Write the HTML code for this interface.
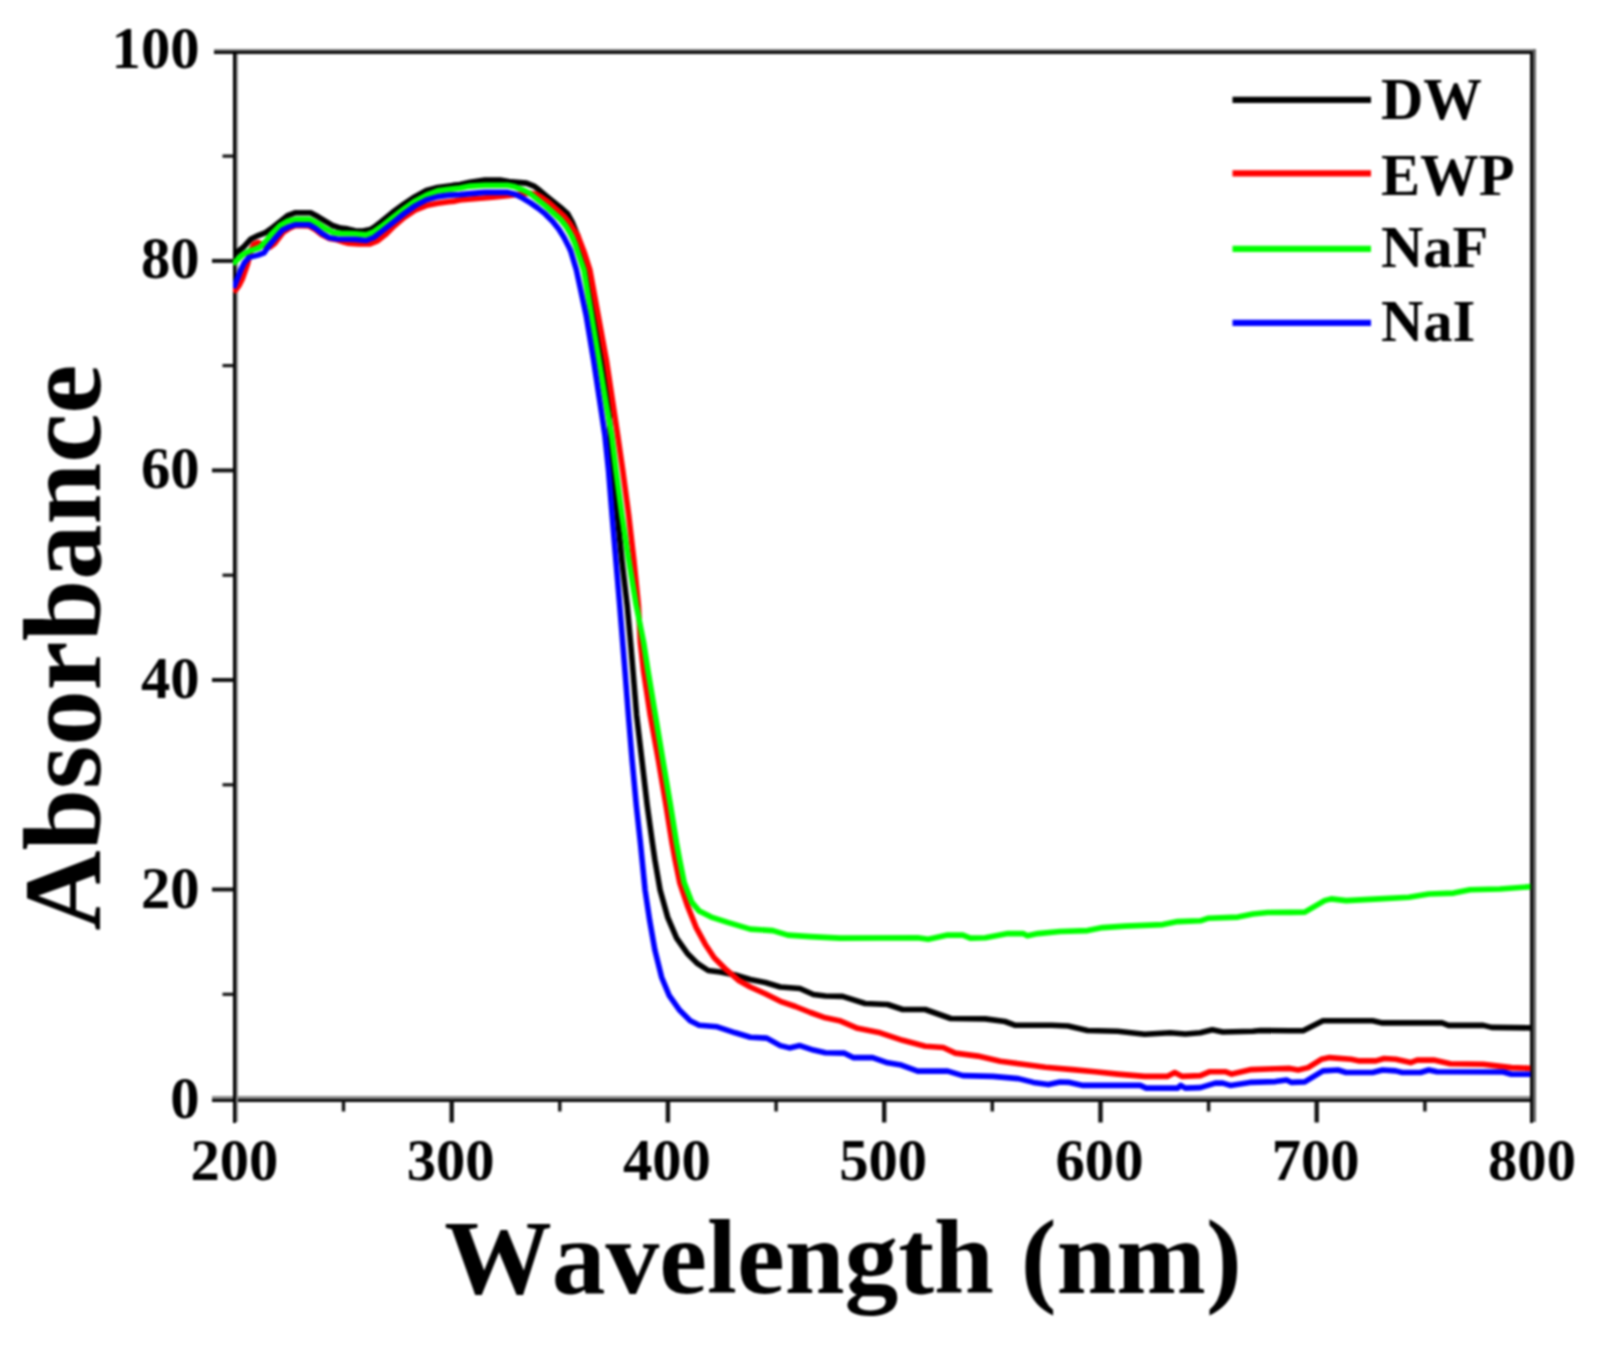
<!DOCTYPE html>
<html lang="en"><head><meta charset="utf-8"><title>Absorbance vs Wavelength</title>
<style>
html,body{margin:0;padding:0;background:#fff;}
body{width:1597px;height:1345px;overflow:hidden;}
svg{display:block;}
text{font-family:"Liberation Serif",serif;font-weight:bold;fill:#000;font-kerning:none;}
</style></head><body>
<svg width="1597" height="1345" viewBox="0 0 1597 1345">
<rect x="0" y="0" width="1597" height="1345" fill="#fff"/>
<defs><filter id="soft" x="0" y="0" width="100%" height="100%" filterUnits="userSpaceOnUse" color-interpolation-filters="sRGB"><feGaussianBlur stdDeviation="1.1"/></filter></defs>
<g filter="url(#soft)">
<rect x="0" y="0" width="1597" height="1345" fill="#fff"/>
<g shape-rendering="crispEdges">
<rect x="214" y="49" width="1322" height="2" fill="#808080"/>
<rect x="214" y="51" width="1322" height="3" fill="#0a0a0a"/>
<rect x="212" y="1096" width="1324" height="3" fill="#8a8a8a"/>
<rect x="212" y="1099" width="1324" height="3" fill="#0a0a0a"/>
<rect x="233" y="51" width="3" height="1072" fill="#000"/>
<rect x="236" y="54" width="2" height="1068" fill="#8a8a8a"/>
<rect x="1530" y="51" width="3" height="1072" fill="#0a0a0a"/>
<rect x="1533" y="49" width="3" height="1073" fill="#686868"/>
</g>
<g stroke="#111" fill="none">
<line x1="212" y1="889.5" x2="234" y2="889.5" stroke-width="4"/>
<line x1="212" y1="680.0" x2="234" y2="680.0" stroke-width="4"/>
<line x1="212" y1="470.4" x2="234" y2="470.4" stroke-width="4"/>
<line x1="212" y1="260.9" x2="234" y2="260.9" stroke-width="4"/>
<line x1="222.5" y1="994.3" x2="234" y2="994.3" stroke-width="3.2"/>
<line x1="222.5" y1="784.8" x2="234" y2="784.8" stroke-width="3.2"/>
<line x1="222.5" y1="575.2" x2="234" y2="575.2" stroke-width="3.2"/>
<line x1="222.5" y1="365.6" x2="234" y2="365.6" stroke-width="3.2"/>
<line x1="222.5" y1="156.1" x2="234" y2="156.1" stroke-width="3.2"/>
<line x1="451.7" y1="1100" x2="451.7" y2="1122.5" stroke-width="4.4"/>
<line x1="667.9" y1="1100" x2="667.9" y2="1122.5" stroke-width="4.4"/>
<line x1="884.2" y1="1100" x2="884.2" y2="1122.5" stroke-width="4.4"/>
<line x1="1100.5" y1="1100" x2="1100.5" y2="1122.5" stroke-width="4.4"/>
<line x1="1316.7" y1="1100" x2="1316.7" y2="1122.5" stroke-width="4.4"/>
<line x1="343.5" y1="1100" x2="343.5" y2="1111.5" stroke-width="3.4"/>
<line x1="559.8" y1="1100" x2="559.8" y2="1111.5" stroke-width="3.4"/>
<line x1="776.1" y1="1100" x2="776.1" y2="1111.5" stroke-width="3.4"/>
<line x1="992.3" y1="1100" x2="992.3" y2="1111.5" stroke-width="3.4"/>
<line x1="1208.6" y1="1100" x2="1208.6" y2="1111.5" stroke-width="3.4"/>
<line x1="1424.9" y1="1100" x2="1424.9" y2="1111.5" stroke-width="3.4"/>
</g>
<defs><clipPath id="plot"><rect x="233" y="54" width="1297.5" height="1045"/></clipPath></defs>
<g clip-path="url(#plot)" fill="none" stroke-linejoin="round" stroke-linecap="butt">
<polyline stroke="#000000" stroke-width="5.6" points="233.0,257.0 234.0,254.4 243.0,247.6 250.5,239.3 258.0,235.6 265.6,232.6 273.0,227.3 280.6,221.3 288.1,215.3 295.6,212.7 310.6,212.7 318.2,216.8 325.7,221.3 333.2,225.8 340.7,228.1 347.5,228.9 355.0,230.7 363.0,231.0 370.0,229.6 373.8,227.4 380.6,222.1 392.6,212.3 403.9,204.1 415.1,196.6 426.4,190.5 437.7,187.5 452.7,185.4 460.0,184.6 470.0,182.3 485.0,180.1 500.0,180.1 511.3,181.9 526.4,183.1 533.9,186.1 539.9,190.6 545.2,195.1 552.7,201.1 560.2,207.1 567.7,213.9 572.2,222.1 577.8,236.0 582.0,252.0 586.9,270.0 595.1,315.1 602.7,360.2 608.6,405.3 611.0,447.3 612.9,470.0 617.4,515.1 621.9,560.2 627.2,605.3 630.6,642.8 632.9,670.0 636.6,715.1 641.9,760.2 647.2,805.3 652.4,842.8 654.9,860.0 660.1,890.1 667.6,917.1 676.6,938.1 687.2,953.2 697.7,963.7 708.2,970.5 720.2,972.0 735.3,975.0 750.3,979.5 765.3,982.5 780.3,987.0 799.9,988.5 813.4,994.5 825.4,996.0 842.5,996.4 865.1,1003.5 887.6,1004.5 902.7,1009.5 925.2,1009.5 950.7,1018.5 985.3,1018.9 1004.9,1021.5 1015.4,1025.3 1051.4,1025.3 1068.0,1026.0 1087.6,1030.5 1117.6,1031.3 1144.7,1034.3 1170.2,1032.8 1185.3,1034.0 1200.3,1032.8 1212.3,1029.8 1222.8,1032.0 1252.9,1031.3 1260.4,1030.5 1290.0,1030.8 1303.1,1030.7 1323.0,1020.8 1372.6,1020.8 1382.5,1022.9 1442.0,1022.9 1448.6,1025.4 1483.3,1025.4 1491.6,1027.4 1532.9,1027.9"/>
<polyline stroke="#ff0000" stroke-width="5.6" points="233.5,292.0 236.0,289.5 239.3,285.0 242.3,279.0 247.5,264.0 251.0,250.0 254.0,244.0 258.0,242.5 262.0,244.0 266.0,246.5 270.0,247.0 274.6,243.5 277.6,239.5 283.0,232.5 290.0,228.0 295.6,225.5 309.1,226.0 315.2,229.5 321.9,234.8 329.4,238.5 336.9,239.8 344.5,242.3 347.5,243.1 358.8,243.9 370.0,243.9 377.6,240.9 385.1,234.9 392.6,227.4 403.9,217.6 415.1,210.1 426.4,205.6 437.7,203.3 448.9,201.7 455.0,201.1 462.5,199.6 477.5,198.5 492.6,197.3 507.6,195.8 522.0,194.0 530.0,193.2 536.1,194.3 541.4,197.3 548.9,202.6 556.4,209.4 563.9,216.1 570.0,223.6 573.7,229.6 577.8,235.4 584.6,253.3 589.9,270.0 598.1,315.1 606.4,360.2 613.2,405.3 617.7,435.3 622.7,470.0 628.7,515.1 633.9,560.2 638.4,605.3 640.4,642.8 643.4,670.0 650.2,715.1 658.4,760.2 666.0,805.3 672.0,842.8 675.1,860.0 679.7,882.5 687.2,905.1 696.2,927.6 705.2,944.2 714.2,957.7 726.2,969.7 738.3,980.2 750.3,987.0 765.3,993.8 780.3,1001.3 795.4,1006.5 810.4,1012.5 825.4,1017.8 839.5,1020.7 857.6,1028.3 880.1,1032.8 902.7,1040.3 925.2,1046.3 943.2,1047.5 955.3,1053.1 977.8,1056.1 1000.3,1061.3 1022.9,1064.3 1045.4,1067.3 1072.5,1069.6 1095.1,1071.8 1117.6,1074.1 1144.7,1076.4 1167.2,1076.4 1174.7,1072.6 1182.3,1076.4 1200.3,1075.6 1209.3,1071.8 1225.8,1071.8 1231.8,1074.1 1251.4,1069.6 1275.4,1068.8 1289.9,1068.4 1298.2,1070.0 1308.1,1067.6 1321.3,1059.3 1329.6,1057.6 1351.1,1059.3 1359.4,1060.9 1375.9,1060.9 1384.1,1058.5 1395.7,1059.3 1410.6,1062.6 1417.2,1060.1 1433.7,1060.1 1450.3,1063.8 1483.3,1064.2 1511.4,1067.6 1532.9,1068.4"/>
<polyline stroke="#00ff00" stroke-width="5.6" points="233.0,264.0 235.5,261.5 243.0,254.4 250.5,250.6 259.6,247.6 265.6,241.6 270.1,235.6 280.6,225.1 288.1,220.9 295.6,219.4 309.1,219.4 318.2,223.6 325.7,228.8 333.2,232.6 340.7,233.4 355.0,233.7 366.3,234.9 373.8,231.9 381.3,226.6 392.6,217.6 403.9,209.0 415.1,201.1 426.4,195.1 437.7,190.9 448.9,189.4 460.0,188.0 470.0,186.1 485.0,185.3 507.6,185.3 515.1,186.8 522.6,189.8 530.1,193.6 537.6,199.6 545.2,205.6 552.7,212.4 560.2,219.1 566.2,226.6 570.7,234.1 574.5,242.4 575.0,243.7 580.5,260.2 583.9,270.0 591.4,315.1 598.9,360.2 606.4,405.3 611.7,435.3 615.9,470.0 621.9,515.1 628.7,560.2 636.2,605.3 643.7,642.8 647.9,670.0 655.4,715.1 662.9,760.2 670.5,805.3 676.5,842.8 679.7,860.0 684.2,882.5 691.7,902.1 699.2,911.1 711.2,917.1 727.7,922.4 750.3,929.1 772.8,930.6 787.9,935.1 810.4,936.6 840.0,938.1 917.7,937.8 928.2,939.3 947.7,935.1 962.8,935.1 970.3,938.1 985.3,937.8 1007.9,933.6 1022.9,933.6 1027.4,935.8 1037.9,933.6 1060.0,931.5 1087.6,930.6 1102.6,927.6 1125.1,926.1 1162.7,924.6 1177.7,921.6 1200.3,920.8 1207.8,918.3 1237.9,917.1 1252.9,914.0 1267.9,912.5 1290.0,912.4 1304.8,912.2 1324.6,900.6 1331.2,898.9 1346.1,900.6 1379.2,898.9 1408.9,897.3 1428.8,894.0 1453.6,893.1 1470.1,889.8 1499.9,889.0 1532.9,886.5"/>
<polyline stroke="#0000ff" stroke-width="5.6" points="233.5,288.0 236.3,281.4 240.8,270.1 244.5,262.6 249.0,257.4 258.0,255.1 264.0,252.9 268.6,246.1 276.1,237.1 282.1,230.3 289.6,226.6 295.6,224.7 309.1,224.7 315.2,228.1 321.9,233.3 329.4,237.8 336.9,239.0 348.0,239.3 355.0,239.4 366.3,240.5 373.8,237.5 382.1,231.1 392.6,222.9 403.9,213.8 415.1,205.9 426.4,199.9 437.7,196.6 448.9,195.1 460.0,194.6 470.0,193.6 485.0,192.4 507.6,192.4 515.1,194.3 522.6,198.1 530.1,202.6 537.6,207.9 545.2,213.9 552.7,221.4 558.7,228.9 563.9,237.2 568.5,246.2 570.7,251.0 576.4,269.9 586.1,315.1 593.6,360.2 600.4,405.3 604.9,435.3 608.5,470.0 612.1,515.1 615.9,560.2 619.7,605.3 622.7,642.8 624.9,670.0 628.4,715.1 632.1,760.2 636.3,805.3 640.4,842.8 642.1,860.0 645.1,890.1 649.6,920.1 654.9,950.2 661.6,977.2 669.1,995.3 679.7,1010.3 690.2,1020.8 699.2,1025.3 717.2,1026.8 735.3,1032.8 750.3,1037.3 766.8,1038.1 780.3,1045.6 789.4,1047.9 799.9,1045.6 813.4,1050.1 825.4,1052.7 844.0,1053.1 853.1,1057.6 872.6,1057.6 887.6,1062.8 901.2,1065.1 917.7,1071.1 947.7,1071.1 962.8,1075.6 992.8,1076.4 1018.4,1078.6 1033.4,1082.4 1048.4,1084.6 1060.0,1082.0 1069.5,1082.4 1083.1,1085.4 1140.2,1085.4 1146.2,1088.1 1177.7,1088.1 1180.7,1085.4 1185.3,1088.1 1200.3,1087.6 1215.3,1083.1 1222.8,1083.1 1230.3,1085.4 1249.9,1082.4 1275.4,1081.6 1286.6,1080.0 1291.6,1082.4 1304.8,1081.9 1323.0,1070.9 1337.9,1070.0 1346.1,1072.5 1372.6,1072.5 1382.5,1070.0 1395.7,1070.9 1402.3,1072.5 1420.5,1072.5 1428.8,1070.0 1437.0,1071.7 1503.2,1072.0 1511.4,1074.2 1532.9,1074.2"/>
</g>
<g font-size="58.6px">
<text class="yt" x="199.5" y="1117.5" text-anchor="end">0</text>
<text class="yt" x="199.5" y="907.6" text-anchor="end">20</text>
<text class="yt" x="199.5" y="697.7" text-anchor="end">40</text>
<text class="yt" x="199.5" y="487.8" text-anchor="end">60</text>
<text class="yt" x="199.5" y="277.9" text-anchor="end">80</text>
<text class="yt" x="199.5" y="68.0" text-anchor="end">100</text>
<text class="xt" x="234.4" y="1180.0" text-anchor="middle">200</text>
<text class="xt" x="450.7" y="1180.0" text-anchor="middle">300</text>
<text class="xt" x="666.9" y="1180.0" text-anchor="middle">400</text>
<text class="xt" x="883.2" y="1180.0" text-anchor="middle">500</text>
<text class="xt" x="1099.5" y="1180.0" text-anchor="middle">600</text>
<text class="xt" x="1315.7" y="1180.0" text-anchor="middle">700</text>
<text class="xt" x="1532.0" y="1180.0" text-anchor="middle">800</text>
</g>
<text id="ylab" font-size="111.0px" text-anchor="middle" textLength="566.0" lengthAdjust="spacingAndGlyphs" transform="translate(100.0,647.5) rotate(-90)">Absorbance</text>
<text id="xlab" font-size="105.0px" text-anchor="middle" textLength="797.5" lengthAdjust="spacingAndGlyphs" x="843.0" y="1292.6">Wavelength (nm)</text>
<g>
<line x1="1232.5" y1="99.9" x2="1371" y2="99.9" stroke="#000000" stroke-width="6.2"/>
<text class="lg" font-size="58.6px" x="1381.0" y="119.1">DW</text>
<line x1="1232.5" y1="173.4" x2="1371" y2="173.4" stroke="#ff0000" stroke-width="6.2"/>
<text class="lg" font-size="58.6px" x="1381.0" y="194.6">EWP</text>
<line x1="1232.5" y1="248.9" x2="1371" y2="248.9" stroke="#00ff00" stroke-width="6.2"/>
<text class="lg" font-size="58.6px" x="1381.0" y="267.4">NaF</text>
<line x1="1232.5" y1="322.9" x2="1371" y2="322.9" stroke="#0000ff" stroke-width="6.2"/>
<text class="lg" font-size="58.6px" x="1381.0" y="340.7">NaI</text>
</g>
</g>
</svg>
</body></html>
